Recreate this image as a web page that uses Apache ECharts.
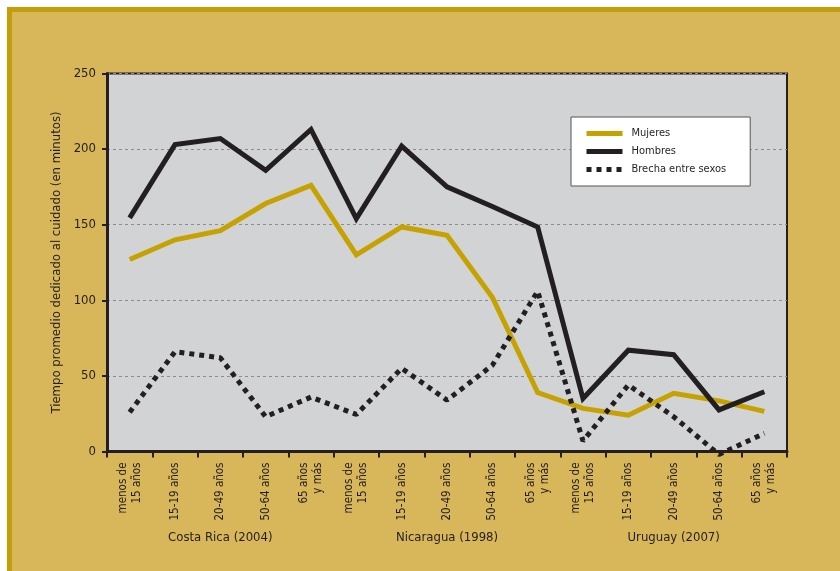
<!DOCTYPE html>
<html>
<head>
<meta charset="utf-8">
<script src="https://cdn.jsdelivr.net/npm/echarts@6/dist/echarts.min.js"></script>
<style>
  html, body { margin: 0; padding: 0; background: #ffffff; }
  #frame { position: absolute; left: 7px; top: 7px; width: 833px; height: 564px;
           box-sizing: border-box; border-left: 5px solid #c49e0a; border-top: 5px solid #c49e0a;
           background: #d8b65a; }
  #chart { position: absolute; left: 0; top: 0; width: 840px; height: 571px; }
</style>
</head>
<body>
<div id="frame"></div>
<div id="chart"></div>
<script>
const categories = [
  'menos de\n15 años', '15-19 años', '20-49 años', '50-64 años', '65 años\ny más',
  'menos de\n15 años', '15-19 años', '20-49 años', '50-64 años', '65 años\ny más',
  'menos de\n15 años', '15-19 años', '20-49 años', '50-64 años', '65 años\ny más'
];
const groups = ['Costa Rica (2004)', 'Nicaragua (1998)', 'Uruguay (2007)'];
const mujeres = [127, 140, 146, 164, 176, 130, 148.5, 143, 102, 39, 28.5, 24, 38.5, 33.5, 26.5];
const hombres = [154.5, 203, 207, 186, 213, 154, 202, 175, 162, 148.5, 35, 67, 64, 27.5, 39.5];
const brecha  = [26, 66, 62, 23, 36, 24.5, 55, 34, 57, 106, 7, 44, 23, -2, 12];
const yTicks = { min: 0, max: 250, interval: 50 };

const FONT = '"DejaVu Sans Condensed", "Liberation Sans Narrow", Lato, sans-serif';
const INK = '#231f20';
const GOLD = '#c6a200';

const chart = echarts.init(document.getElementById('chart'), null, { renderer: 'canvas' });
chart.setOption({
  backgroundColor: 'transparent',
  textStyle: { fontFamily: FONT, color: INK },
  grid: {
    left: 107, top: 73.5, width: 680, height: 378,
    show: true, backgroundColor: '#d1d3d4', borderColor: INK, borderWidth: 2,
    containLabel: false
  },
  legend: {
    orient: 'vertical', left: 571, top: 117,
    backgroundColor: '#ffffff', borderColor: '#555555', borderWidth: 1,
    padding: [11, 24, 11, 13], itemGap: 7, itemWidth: 36, itemHeight: 12,
    itemStyle: { color: 'rgba(0,0,0,0)', borderWidth: 0, opacity: 0 },
    lineStyle: { width: 5 },
    textStyle: { fontFamily: FONT, fontSize: 11, color: INK, padding: [0, 0, 0, 4] },
    data: ['Mujeres', 'Hombres', 'Brecha entre sexos']
  },
  xAxis: [{
    type: 'category', data: categories, boundaryGap: true, position: 'bottom',
    axisLine: { lineStyle: { color: INK, width: 3 } },
    axisTick: { show: true, length: 6, lineStyle: { color: INK, width: 2 } },
    axisLabel: { rotate: 90, margin: 11, fontSize: 11.5, color: INK, fontFamily: FONT, interval: 0, lineHeight: 14 },
    splitLine: { show: false }
  }, {
    type: 'category', data: groups, position: 'bottom', offset: 80,
    axisLine: { show: false }, axisTick: { show: false },
    axisLabel: { margin: 0, fontSize: 13, color: INK, fontFamily: FONT, interval: 0 },
    splitLine: { show: false }
  }],
  yAxis: {
    type: 'value', min: yTicks.min, max: yTicks.max, interval: yTicks.interval,
    name: 'Tiempo promedio dedicado al cuidado (en minutos)',
    nameLocation: 'middle', nameGap: 39,
    nameTextStyle: { fontSize: 13, color: INK, fontFamily: FONT },
    axisLine: { show: true, lineStyle: { color: INK, width: 3 } },
    axisTick: { show: true, length: 5, lineStyle: { color: INK, width: 2 } },
    axisLabel: { margin: 11, fontSize: 13, color: INK, fontFamily: FONT },
    splitLine: { show: true, lineStyle: { color: '#8c8c8c', width: 1, type: [3, 3] } }
  },
  series: [{
    name: 'Mujeres', type: 'line', xAxisIndex: 0, data: mujeres,
    symbol: 'none', smooth: false, color: GOLD,
    lineStyle: { color: GOLD, width: 5, join: 'miter' }
  }, {
    name: 'Hombres', type: 'line', xAxisIndex: 0, data: hombres,
    symbol: 'none', smooth: false, color: INK,
    lineStyle: { color: INK, width: 5, join: 'miter' }
  }, {
    name: 'Brecha entre sexos', type: 'line', xAxisIndex: 0, data: brecha,
    symbol: 'none', smooth: false, color: INK, clip: false,
    lineStyle: { color: INK, width: 5, type: [5, 5], cap: 'butt' }
  }],
  animation: false
});
</script>
</body>
</html>
